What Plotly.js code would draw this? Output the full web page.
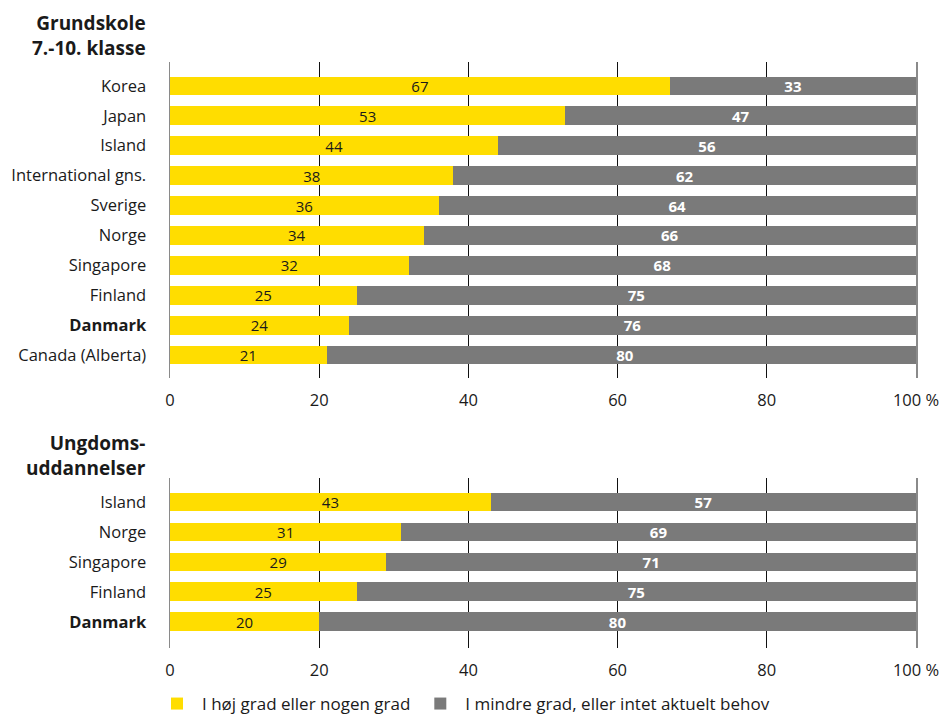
<!DOCTYPE html>
<html>
<head>
<meta charset="utf-8">
<script src="https://cdn.plot.ly/plotly-3.0.1.min.js"></script>
<style>html,body{margin:0;padding:0;background:#fff}#chart{width:945px;height:718px}</style>
</head>
<body>
<div id="chart"></div>
<script>
// Panel 1: Grundskole 7.-10. klasse
const catsTop = ["Korea","Japan","Island","International gns.","Sverige","Norge","Singapore","Finland","Danmark","Canada (Alberta)"];
const highTop = [67,53,44,38,36,34,32,25,24,21];
const lowTop  = [33,47,56,62,64,66,68,75,76,80];
// Panel 2: Ungdomsuddannelser
const catsBot = ["Island","Norge","Singapore","Finland","Danmark"];
const highBot = [43,31,29,25,20];
const lowBot  = [57,69,71,75,80];

const seriesNames = ["I høj grad eller nogen grad","I mindre grad, eller intet aktuelt behov"];
const xTickVals = [0,20,40,60,80,100];
const xTickText = ["0","20","40","60","80","100 %"];
const boldCat = "Danmark";

const YELLOW = "#FFDD00", GRAY = "#7A7A7A";
const FONT = "Open Sans, Noto Sans, sans-serif";

function tickTexts(cats){ return cats.map(c => c === boldCat ? "<b>"+c+"</b>" : c); }

function bar(cats, vals, name, color, xa, ya, light, showleg){
  return {
    type:"bar", orientation:"h", y:cats, x:vals, name:name,
    xaxis:xa, yaxis:ya, marker:{color:color, line:{width:0}},
    text:vals.map(String), textposition:"inside", insidetextanchor:"middle",
    textangle:0, constraintext:"none",
    textfont:{family:FONT, size:15, color: light ? "#ffffff" : "#1a1a1a", weight: light ? 700 : 500},
    showlegend:showleg, hoverinfo:"none", cliponaxis:true
  };
}

const data = [
  bar(catsTop, highTop, seriesNames[0], YELLOW, "x", "y", false, true),
  bar(catsTop, lowTop,  seriesNames[1], GRAY,   "x", "y", true,  true),
  bar(catsBot, highBot, seriesNames[0], YELLOW, "x2","y2", false, false),
  bar(catsBot, lowBot,  seriesNames[1], GRAY,   "x2","y2", true,  false)
];

function xaxis(anchor){
  return {
    anchor:anchor, domain:[0,1], range:[0,100], tickvals:xTickVals, ticktext:xTickText,
    showgrid:true, gridcolor:"#111", gridwidth:1, zeroline:false, showline:false,
    ticks:"", ticklabelstandoff:10, tickfont:{family:FONT, size:16.5, color:"#1a1a1a"},
    fixedrange:true, automargin:false
  };
}
function yaxis(anchor, cats, range, domain){
  return {
    anchor:anchor, domain:domain, type:"category", categoryorder:"array", categoryarray:cats,
    range:range, tickvals:cats, ticktext:tickTexts(cats),
    showline:true, mirror:true, linecolor:"#8a8a8a", linewidth:1.5,
    showgrid:false, zeroline:false, ticks:"", ticklabelstandoff:19,
    tickfont:{family:FONT, size:16.5, color:"#1a1a1a"}, automargin:false, fixedrange:true
  };
}

const H = 718;
const layout = {
  width:945, height:718, margin:{l:170, r:29, t:0, b:0, autoexpand:false},
  paper_bgcolor:"#fff", plot_bgcolor:"#fff",
  barmode:"stack", bargap:0.37,
  font:{family:FONT, color:"#1a1a1a"},
  xaxis: xaxis("y"),
  yaxis: yaxis("x", catsTop, [9.77,-0.80], [1-378/H, 1-62/H]),
  xaxis2: xaxis("y2"),
  yaxis2: yaxis("x2", catsBot, [4.87,-0.80], [1-648/H, 1-478/H]),
  showlegend:true,
  legend:{orientation:"h", xref:"container", yref:"container", x:152/945, xanchor:"left", y:14/H, yanchor:"middle",
    font:{family:FONT, size:17, color:"#1a1a1a"}, traceorder:"normal", itemwidth:40,
    bgcolor:"rgba(0,0,0,0)"},
  annotations:[
    {xref:"paper", yref:"paper", x:-22/746, y:1-8/H, xanchor:"right", yanchor:"top", align:"right",
     text:"<b>Grundskole<br>7.-10. klasse</b>", showarrow:false, font:{family:FONT, size:19, color:"#1a1a1a"}},
    {xref:"paper", yref:"paper", x:-22/746, y:1-428/H, xanchor:"right", yanchor:"top", align:"right",
     text:"<b>Ungdoms-<br>uddannelser</b>", showarrow:false, font:{family:FONT, size:19, color:"#1a1a1a"}}
  ]
};

Plotly.newPlot("chart", data, layout, {displayModeBar:false, staticPlot:true});
</script>
</body>
</html>
